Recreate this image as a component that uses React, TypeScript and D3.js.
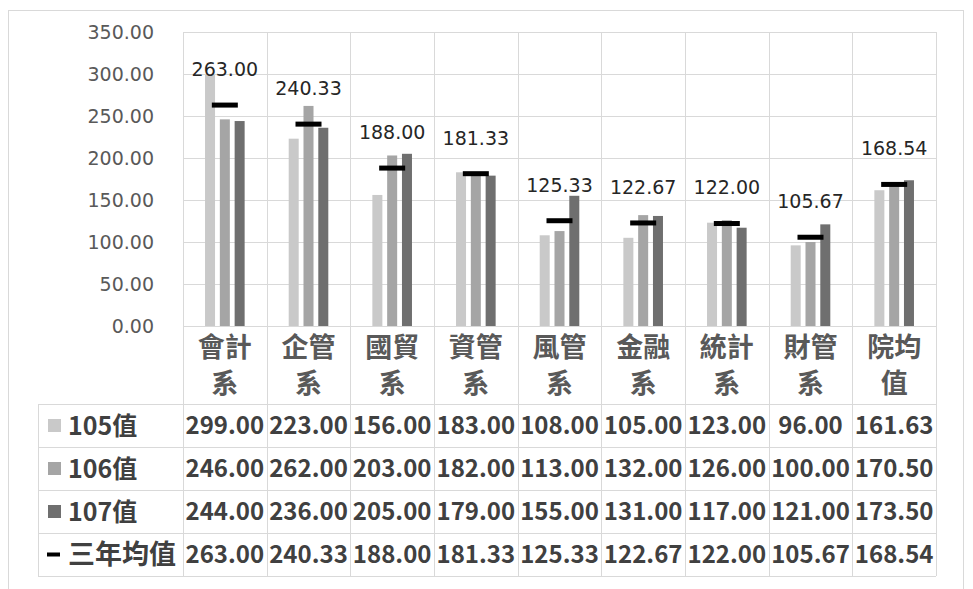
import React from "react";
import * as d3 from "d3";

const categories = ["會計系", "企管系", "國貿系", "資管系", "風管系", "金融系", "統計系", "財管系", "院均值"];
const seriesNames = ["105值", "106值", "107值"];
const values105 = [299.0, 223.0, 156.0, 183.0, 108.0, 105.0, 123.0, 96.0, 161.63];
const values106 = [246.0, 262.0, 203.0, 182.0, 113.0, 132.0, 126.0, 100.0, 170.5];
const values107 = [244.0, 236.0, 205.0, 179.0, 155.0, 131.0, 117.0, 121.0, 173.5];
const avgName = "三年均值";
const avgValues = [263.0, 240.33, 188.0, 181.33, 125.33, 122.67, 122.0, 105.67, 168.54];
const yTicks = [0, 50, 100, 150, 200, 250, 300, 350];

const W = 973;
const H = 589;
const plotLeft = 183;
const plotRight = 936;
const plotTop = 32;
const plotBottom = 326;
const tableLeft = 38;
const tableTop = 404;
const rowH = 43;

const barColors = ["#c9c9c9", "#a5a5a5", "#6f6f6f"];
const gridColor = "#d9d9d9";

export default function App() {
  const x = d3.scaleBand<string>().domain(categories).range([plotLeft, plotRight]).padding(0);
  const y = d3.scaleLinear().domain([0, 350]).range([plotBottom, plotTop]);
  const inner = d3
    .scaleBand<string>()
    .domain(seriesNames)
    .range([-22.2, 22.2])
    .paddingInner(0.324)
    .paddingOuter(0.162);
  const seriesValues = [values105, values106, values107];
  const bw = x.bandwidth();
  const tableRows = [...seriesValues, avgValues];
  const tableLabels = [...seriesNames, avgName];
  const tableBottom = tableTop + rowH * tableRows.length;
  const fontNum = "'DejaVu Sans', sans-serif";
  const fontCJK = "'Noto Sans CJK TC', sans-serif";

  return (
    <svg
      width={W}
      height={H}
      style={{ position: "absolute", left: 0, top: 0, background: "#fff" }}
    >
      <rect x={0} y={0} width={W} height={H} fill="#fff" />
      <rect x={8.5} y={10.5} width={955} height={600} fill="none" stroke={gridColor} strokeWidth={1} />

      {/* horizontal gridlines */}
      {yTicks.map((t) => (
        <line
          key={"g" + t}
          x1={plotLeft}
          x2={plotRight}
          y1={Math.round(y(t)) + 0.5}
          y2={Math.round(y(t)) + 0.5}
          stroke={gridColor}
        />
      ))}
      {/* vertical category lines spanning plot, labels and table */}
      {categories.map((c) => (
        <line
          key={"v" + c}
          x1={Math.round(x(c)!) + 0.5}
          x2={Math.round(x(c)!) + 0.5}
          y1={plotTop}
          y2={tableBottom}
          stroke={gridColor}
        />
      ))}
      <line x1={plotRight + 0.5} x2={plotRight + 0.5} y1={plotTop} y2={tableBottom} stroke={gridColor} />

      {/* table grid */}
      {d3.range(tableRows.length + 1).map((i) => (
        <line
          key={"tr" + i}
          x1={tableLeft}
          x2={plotRight}
          y1={tableTop + i * rowH + 0.5}
          y2={tableTop + i * rowH + 0.5}
          stroke={gridColor}
        />
      ))}
      <line x1={tableLeft + 0.5} x2={tableLeft + 0.5} y1={tableTop} y2={tableBottom} stroke={gridColor} />

      {/* y tick labels */}
      {yTicks.map((t) => (
        <text
          key={"t" + t}
          x={154}
          y={y(t)}
          dy="0.36em"
          textAnchor="end"
          fontFamily={fontNum}
          fontSize={19}
          fill="#595959"
        >
          {t.toFixed(2)}
        </text>
      ))}

      {/* bars */}
      {seriesValues.map((vals, si) =>
        vals.map((v, ci) => {
          const cx = x(categories[ci])! + bw / 2;
          return (
            <rect
              key={"b" + si + "-" + ci}
              x={cx + inner(seriesNames[si])!}
              y={y(v)}
              width={inner.bandwidth()}
              height={y(0) - y(v)}
              fill={barColors[si]}
            />
          );
        })
      )}

      {/* average markers */}
      {avgValues.map((v, ci) => {
        const cx = x(categories[ci])! + bw / 2;
        return <rect key={"a" + ci} x={cx - 13} y={y(v) - 2.5} width={26} height={5} fill="#000" />;
      })}

      {/* data labels */}
      {avgValues.map((v, ci) => {
        const cx = x(categories[ci])! + bw / 2;
        return (
          <text
            key={"l" + ci}
            x={cx}
            y={y(v) - 36}
            dy="0.36em"
            textAnchor="middle"
            fontFamily={fontNum}
            fontSize={19}
            fill="#262626"
          >
            {v.toFixed(2)}
          </text>
        );
      })}

      {/* category labels */}
      {categories.map((c) => {
        const cx = x(c)! + bw / 2;
        return (
          <g key={"c" + c} fontFamily={fontCJK} fontSize={27} fontWeight={700} fill="#595959" textAnchor="middle">
            <text x={cx} y={347.5} dy="0.36em">
              {c.slice(0, 2)}
            </text>
            <text x={cx} y={383.5} dy="0.36em">
              {c.slice(2)}
            </text>
          </g>
        );
      })}

      {/* table legend column */}
      {tableLabels.map((lab, ri) => {
        const cy = tableTop + ri * rowH + rowH / 2;
        return (
          <g key={"rl" + ri}>
            {ri < 3 ? (
              <rect x={48} y={cy - 6.5} width={13} height={13} fill={barColors[ri]} />
            ) : (
              <rect x={47} y={cy - 2} width={13} height={4} fill="#000" />
            )}
            <text
              x={ri < 3 ? 68 : 68}
              y={cy}
              dy="0.36em"
              fontFamily={fontCJK}
              fontSize={ri < 3 ? 25 : 27}
              fontWeight={700}
              fill="#404040"
            >
              {lab}
            </text>
          </g>
        );
      })}

      {/* table values */}
      {tableRows.map((vals, ri) =>
        vals.map((v, ci) => (
          <text
            key={"tv" + ri + "-" + ci}
            x={x(categories[ci])! + bw / 2}
            y={tableTop + ri * rowH + rowH / 2}
            dy="0.36em"
            textAnchor="middle"
            fontFamily={fontCJK}
            fontSize={24}
            fontWeight={700}
            fill="#404040"
          >
            {v.toFixed(2)}
          </text>
        ))
      )}
    </svg>
  );
}
